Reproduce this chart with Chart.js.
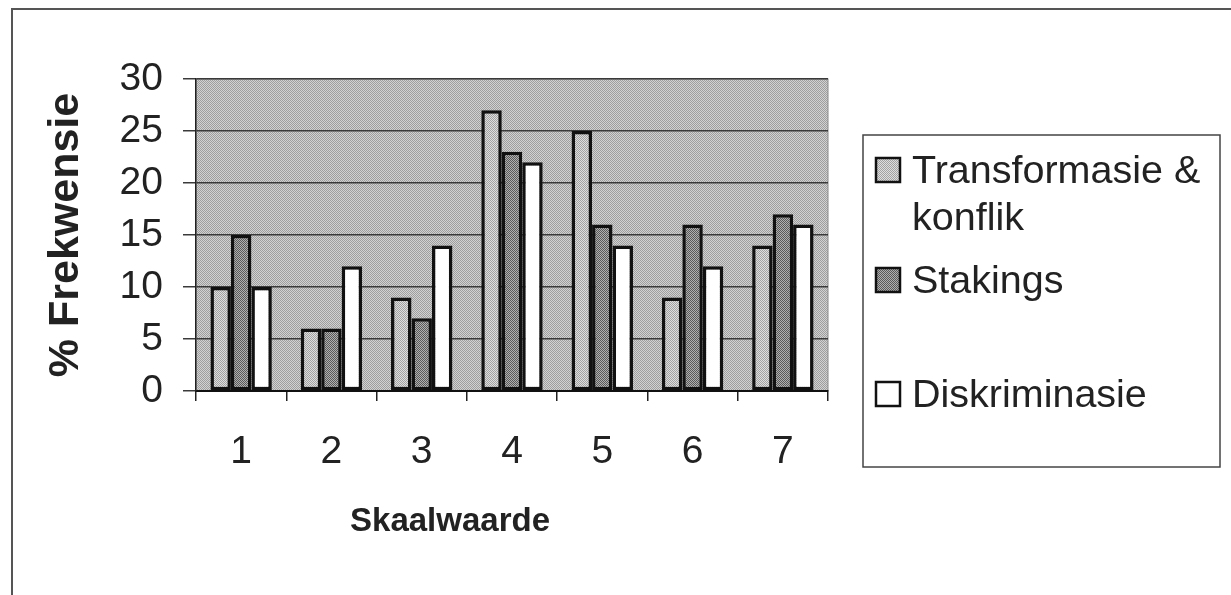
<!DOCTYPE html>
<html>
<head>
<meta charset="utf-8">
<script src="https://cdn.jsdelivr.net/npm/chart.js@4/dist/chart.umd.min.js"></script>
<style>
  html, body { margin: 0; padding: 0; background: #fff; }
  #wrap { position: relative; width: 1231px; height: 595px; }
  #frame { position: absolute; left: 11px; top: 8px; right: 0; bottom: 0;
           border-top: 2px solid #555; border-left: 2px solid #555; pointer-events: none; }
</style>
</head>
<body>
<div id="wrap">
  <canvas id="myChart" width="1231" height="595"></canvas>
  <div id="frame"></div>
</div>
<script>
// data
const categories = ['1', '2', '3', '4', '5', '6', '7'];
const seriesNames = ['Transformasie & konflik', 'Stakings', 'Diskriminasie'];
const transformasie = [10, 6, 9, 27, 25, 9, 14];
const stakings = [15, 6, 7, 23, 16, 16, 17];
const diskriminasie = [10, 12, 14, 22, 14, 12, 16];
const yTicks = [0, 5, 10, 15, 20, 25, 30];
const yTitle = '% Frekwensie';
const xTitle = 'Skaalwaarde';

const FONT = "'Liberation Sans', Arial, sans-serif";
const canvas = document.getElementById('myChart');
const ctx = canvas.getContext('2d');

// small dotted tiles, like the old printed fills
function makePattern(a, b) {
    const tile = document.createElement('canvas');
    tile.width = 2;
    tile.height = 2;
    const t = tile.getContext('2d');
    t.fillStyle = a;
    t.fillRect(0, 0, 2, 2);
    t.fillStyle = b;
    t.fillRect(0, 0, 1, 1);
    t.fillRect(1, 1, 1, 1);
    return ctx.createPattern(tile, 'repeat');
}

const bgFill = makePattern('#d2d2d2', '#9e9e9e');
const fills = [
    makePattern('#dedede', '#a2a2a2'),
    makePattern('#b0b0b0', '#5a5a5a'),
    '#ffffff'
];

const legendRowY = [170, 280, 394];

const extras = {
    id: 'extras',
    beforeDraw(chart) {
        const {ctx, chartArea: a} = chart;
        ctx.save();
        ctx.fillStyle = bgFill;
        ctx.fillRect(a.left, a.top, a.right - a.left, a.bottom - a.top);
        ctx.strokeStyle = '#8a8a8a';
        ctx.lineWidth = 1;
        ctx.strokeRect(a.left, a.top, a.right - a.left, a.bottom - a.top);
        ctx.restore();
    },
    afterDraw(chart) {
        const c = chart.ctx;
        c.save();
        // x axis title
        c.fillStyle = '#222';
        c.font = 'bold 33px ' + FONT;
        c.textAlign = 'center';
        c.textBaseline = 'middle';
        c.fillText(xTitle, 450, 522);

        // legend box
        c.strokeStyle = '#444';
        c.lineWidth = 1.5;
        c.strokeRect(863, 135, 357, 332);
        c.font = '39.5px ' + FONT;
        c.textAlign = 'left';
        chart.data.datasets.forEach((ds, i) => {
            const y = legendRowY[i];
            c.fillStyle = ds.backgroundColor;
            c.fillRect(876, y - 12, 24, 24);
            c.strokeStyle = '#111';
            c.lineWidth = 2.5;
            c.strokeRect(876, y - 12, 24, 24);
            // wrap the label to fit the box
            const words = ds.label.split(' ');
            const lines = [];
            let line = '';
            words.forEach(w => {
                const test = line ? line + ' ' + w : w;
                if (c.measureText(test).width > 300 && line) {
                    lines.push(line);
                    line = w;
                } else {
                    line = test;
                }
            });
            lines.push(line);
            c.fillStyle = '#222';
            lines.forEach((l, k) => c.fillText(l, 912, y + 2 + k * 47));
        });
        c.restore();
    }
};

const myChart = new Chart(ctx, {
    type: 'bar',
    data: {
        labels: categories,
        datasets: [transformasie, stakings, diskriminasie].map((d, i) => ({
            label: seriesNames[i],
            data: d,
            backgroundColor: fills[i],
            borderColor: '#111',
            borderWidth: 3.5,
            borderSkipped: false,
            categoryPercentage: 0.68,
            barPercentage: 1.0
        }))
    },
    options: {
        responsive: false,
        animation: false,
        events: [],
        layout: { padding: { top: 79, right: 403, left: 0, bottom: 0 } },
        plugins: {
            legend: { display: false },
            tooltip: { enabled: false }
        },
        scales: {
            x: {
                grid: {
                    display: true,
                    drawOnChartArea: false,
                    offset: true,
                    tickLength: 10,
                    color: '#222',
                    lineWidth: 1.5
                },
                border: { display: true, color: '#111', width: 2 },
                ticks: {
                    color: '#222',
                    padding: 28,
                    font: { family: FONT, size: 39 }
                },
                afterFit(scale) { scale.height = 204; }
            },
            y: {
                min: 0,
                max: 30,
                afterBuildTicks(scale) { scale.ticks = yTicks.map(v => ({ value: v })); },
                grid: {
                    color: '#3a3a3a',
                    lineWidth: 1.5,
                    tickLength: 13
                },
                border: { display: true, color: '#222', width: 1.5 },
                ticks: {
                    color: '#222',
                    padding: 20,
                    font: { family: FONT, size: 39 }
                },
                title: {
                    display: true,
                    text: yTitle,
                    color: '#222',
                    padding: { top: 40, bottom: 0 },
                    font: { family: FONT, size: 43, weight: 'bold' }
                },
                afterFit(scale) { scale.width = 196; }
            }
        }
    },
    plugins: [extras]
});
</script>
</body>
</html>
